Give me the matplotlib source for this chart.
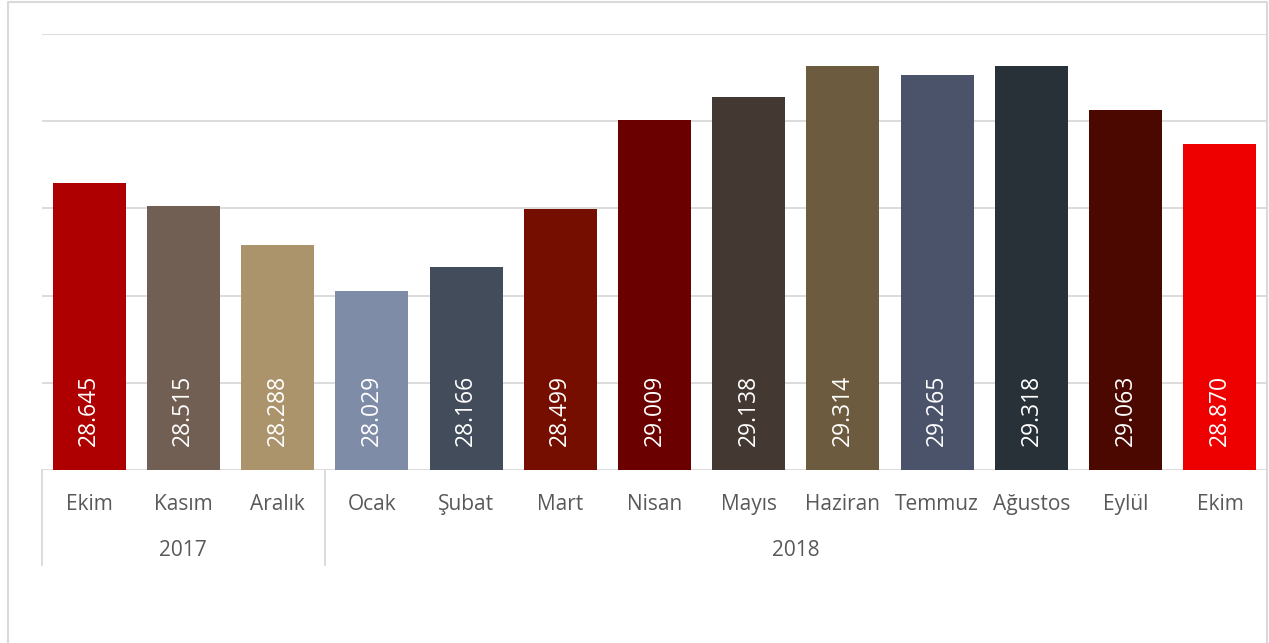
import matplotlib.pyplot as plt
from matplotlib.lines import Line2D

# data
months = ["Ekim", "Kasım", "Aralık", "Ocak", "Şubat", "Mart", "Nisan",
          "Mayıs", "Haziran", "Temmuz", "Ağustos", "Eylül", "Ekim"]
values = [28.645, 28.515, 28.288, 28.029, 28.166, 28.499, 29.009,
          29.138, 29.314, 29.265, 29.318, 29.063, 28.870]
years = ["2017", "2018"]
year_counts = [3, 10]
colors = ["#AE0000", "#725F53", "#AB936C", "#7F8CA8", "#424C5A", "#760E00", "#6B0000",
          "#433832", "#6C5B3E", "#4A536A", "#283038", "#4A0800", "#EE0000"]

plt.rcParams['font.family'] = ['Open Sans', 'DejaVu Sans']

W, H = 1269, 643
fig = plt.figure(figsize=(W / 100, H / 100), dpi=100)
ax = fig.add_axes([42 / W, 1 - 470 / H, (1267 - 42) / W, (470 - 34) / H])

x = list(range(len(months)))
ax.bar(x, values, width=0.775, color=colors, bottom=0, zorder=3)
ax.set_ylim(27, 29.5)
ax.set_xlim(-0.5, len(months) - 0.5)

# gridlines
for g in [27, 27.5, 28, 28.5, 29, 29.5]:
    ax.axhline(g, color="#d9d9d9", lw=1.3, zorder=1)

for s in ax.spines.values():
    s.set_visible(False)
ax.set_xticks([])
ax.set_yticks([])

# value labels inside bars, near the base
for xi, v in zip(x, values):
    ax.annotate(f"{v:.3f}", (xi, 27), xytext=(0, 17), textcoords="offset points",
                rotation=90, ha="center", va="bottom", color="white", fontsize=16.5,
                zorder=4)

# category labels
step = 1225 / 13
for xi, m in zip(x, months):
    fig.text((42 + (xi + 0.5) * step) / W, 1 - 510 / H, m, ha="center", va="baseline",
             color="#595959", fontsize=15)

# year labels and separators
start = 0
for yr, n in zip(years, year_counts):
    x0 = 42 + start * step
    x1 = 42 + (start + n) * step
    fig.text((x0 + x1) / 2 / W, 1 - 556 / H, yr, ha="center", va="baseline",
             color="#595959", fontsize=15)
    fig.add_artist(Line2D([x0 / W, x0 / W], [1 - 470 / H, 1 - 565 / H],
                          color="#d9d9d9", lw=1.3))
    start += n

# outer chart border
fig.add_artist(Line2D([8 / W, 8 / W, 1267 / W, 1267 / W], [0, 1 - 1.5 / H, 1 - 1.5 / H, 0],
                      color="#d9d9d9", lw=1.5))

fig.savefig("out.png", dpi=100)
